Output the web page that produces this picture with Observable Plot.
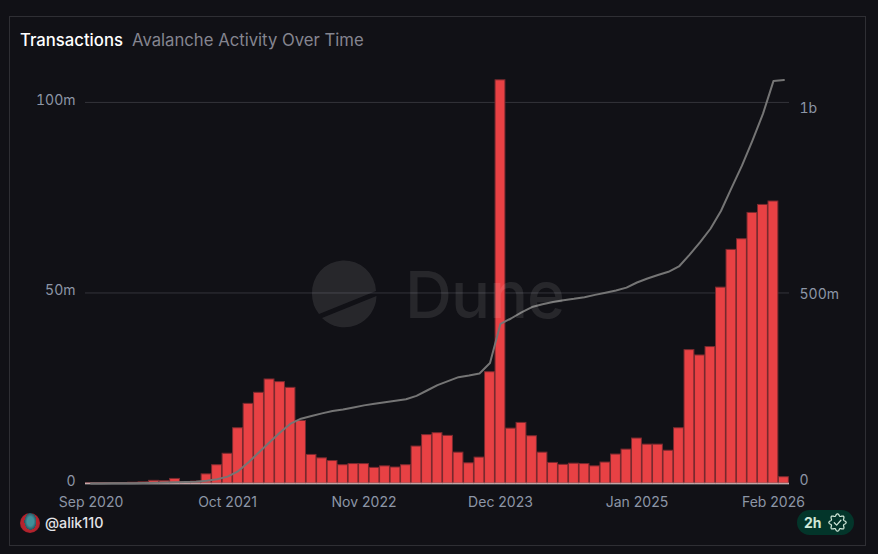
<!DOCTYPE html>
<html>
<head>
<meta charset="utf-8">
<script src="https://cdn.jsdelivr.net/npm/d3@7"></script>
<script src="https://cdn.jsdelivr.net/npm/@observablehq/plot@0.6"></script>
<style>
  html, body { margin: 0; padding: 0; background: #111116; width: 878px; height: 554px; overflow: hidden; font-family: Inter, sans-serif; }
  #card { position: absolute; left: 9px; top: 16px; width: 855px; height: 528px; border: 1px solid #2f2f34; box-sizing: content-box; }
  #chart { position: absolute; left: 0; top: 0; }
  #chart svg { display: block; }
  .t { position: absolute; white-space: nowrap; line-height: 20px; }
  #title { left: 20px; top: 30px; font-size: 16.7px; font-weight: 500; color: #ffffff; }
  #subtitle { left: 132px; top: 30px; font-size: 16.7px; color: #858590; }
  #handle { left: 45px; top: 513px; font-size: 14.3px; font-weight: 500; color: #e4e4e8; }
  #avatar { position: absolute; left: 20px; top: 513px; width: 20px; height: 20px; border-radius: 50%;
    background: radial-gradient(ellipse 30% 42% at 52% 42%, #3f8f9a 0 55%, #2b5560 100%, transparent 100%), radial-gradient(circle at 50% 50%, #b3242e 0 60%, #7d1620 100%); }
  #badge { position: absolute; left: 797px; top: 510px; width: 57px; height: 25px; border-radius: 13px; background: #03352a; }
  #badge span { position: absolute; left: 7px; top: 3px; font-size: 14px; line-height: 19px; font-weight: 700; color: #cfe7d8; }
  #badge svg { position: absolute; left: 31px; top: 3px; }
  #mark { position: absolute; left: 0; top: 0; pointer-events: none; }
</style>
</head>
<body>
<div id="card"></div>
<div id="chart"></div>
<svg id="mark" width="878" height="554">
  <g fill="#ffffff" fill-opacity="0.095">
    <path d="M312 294 a32 32 0 0 1 64 -3 L319 314 a32 32 0 0 1 -7 -20 Z"/>
    <path d="M322 318 L376.5 296 a32 32 0 0 1 -54.5 22 Z"/>
    <text x="405" y="318" font-family="Inter, sans-serif" font-size="65" font-weight="500" letter-spacing="-1">Dune</text>
  </g>
</svg>
<div class="t" id="title">Transactions</div>
<div class="t" id="subtitle">Avalanche Activity Over Time</div>
<div id="avatar"></div>
<div class="t" id="handle">@alik110</div>
<div id="badge"><span>2h</span><svg width="19" height="19" viewBox="-10 -10 20 20"><path id="seal" fill="none" stroke="#cfe7d8" stroke-width="1.3" stroke-linejoin="round"/><path d="M-3.4 0.2 L-0.9 2.7 L3.6 -2.4" fill="none" stroke="#cfe7d8" stroke-width="1.3" stroke-linecap="round" stroke-linejoin="round"/></svg></div>
<script>
const months = [
  "Sep 2020","Oct 2020","Nov 2020","Dec 2020",
  "Jan 2021","Feb 2021","Mar 2021","Apr 2021","May 2021","Jun 2021","Jul 2021","Aug 2021","Sep 2021","Oct 2021","Nov 2021","Dec 2021",
  "Jan 2022","Feb 2022","Mar 2022","Apr 2022","May 2022","Jun 2022","Jul 2022","Aug 2022","Sep 2022","Oct 2022","Nov 2022","Dec 2022",
  "Jan 2023","Feb 2023","Mar 2023","Apr 2023","May 2023","Jun 2023","Jul 2023","Aug 2023","Sep 2023","Oct 2023","Nov 2023","Dec 2023",
  "Jan 2024","Feb 2024","Mar 2024","Apr 2024","May 2024","Jun 2024","Jul 2024","Aug 2024","Sep 2024","Oct 2024","Nov 2024","Dec 2024",
  "Jan 2025","Feb 2025","Mar 2025","Apr 2025","May 2025","Jun 2025","Jul 2025","Aug 2025","Sep 2025","Oct 2025","Nov 2025","Dec 2025",
  "Jan 2026","Feb 2026","Mar 2026"
];
// Monthly transactions, millions
const monthlyTx = [
  0.02,0.03,0.03,0.05,0.2,0.3,0.7,0.6,1.2,0.3,0.5,2.4,4.8,7.8,14.5,20.9,
  23.8,27.3,26.6,25.1,16.4,7.5,6.6,5.9,4.8,5.1,5.1,4.1,4.5,4.2,4.8,9.7,
  12.7,13.2,12.5,8.1,5.3,6.8,29.2,105.8,14.4,15.9,12.4,8.1,5.4,4.9,5.2,5.1,
  4.5,5.5,7.6,8.9,11.8,10.2,10.2,8.6,14.5,35.0,33.6,35.8,51.4,61.3,64.1,71.0,
  73.1,74.0,1.65
];
// Cumulative transactions, millions
const cumulativeTx = [
  0.2,0.3,0.4,0.5,0.7,1,1.7,2.3,3.5,3.8,4.3,7,11,18,32,56,
  82,108,134,157,170,177,184,190,194,199.5,205,209,213.5,217,221,230,
  244,258,268.6,279,283.5,288.7,316,419,433,449,463,470.6,476,481,484.6,489,
  495,500.5,506.5,514,527.5,538,547,555.6,569.5,600,633,668.5,715,775,834,900,
  970,1056,1059
];
const xTickLabels = ["Sep 2020","Oct 2021","Nov 2022","Dec 2023","Jan 2025","Feb 2026"];
const leftTicks = [0, 50, 100];
const leftTickLabels = ["0", "50m", "100m"];
const rightTicks = [0, 500, 1000];
const rightTickLabels = ["0", "500m", "1b"];

const table = months.map((month, i) => ({month, tx: monthlyTx[i], cum: cumulativeTx[i]}));
const tickColor = "#8d96a6";

const rightAxis = (i, dy) => Plot.axisY([rightTicks[i] / 10], {
  anchor: "right", tickSize: 0, tickPadding: 10, dy, fontSize: 14, fill: tickColor, label: null,
  tickFormat: () => rightTickLabels[i]
});

const chart = Plot.plot({
  width: 878,
  height: 554,
  marginLeft: 85,
  marginRight: 89,
  marginTop: 60,
  marginBottom: 71,
  style: {background: "transparent", fontFamily: "Inter, sans-serif", fontSize: "14px", overflow: "visible"},
  x: {type: "band", domain: months, padding: 0.06, axis: null},
  y: {domain: [0, 111], axis: null},
  marks: [
    Plot.gridY([50, 100], {stroke: "#34343a", strokeOpacity: 1, strokeWidth: 1}),
    Plot.ruleY([0], {stroke: "#ffffff", strokeWidth: 1.6}),
    Plot.barY(table, {x: "month", y: "tx", fill: "#e84144", stroke: "#7a2a2f", strokeWidth: 1}),
    Plot.ruleY([0], {stroke: "#ffffff", strokeOpacity: 0.3, strokeWidth: 1, dy: -0.5}),
    Plot.line(table, {x: "month", y: d => d.cum / 10, stroke: "#757575", strokeWidth: 2}),
    Plot.axisY(leftTicks, {
      anchor: "left", tickSize: 0, tickPadding: 10, dy: -2, fontSize: 14, fill: tickColor, label: null,
      tickFormat: d => leftTickLabels[leftTicks.indexOf(d)]
    }),
    rightAxis(0, -3),
    rightAxis(1, 1.5),
    rightAxis(2, 6),
    Plot.axisX(xTickLabels, {
      anchor: "bottom", tickSize: 0, tickPadding: 14, fontSize: 14, fill: tickColor, label: null
    })
  ]
});
document.getElementById("chart").appendChild(chart);

// Badge seal outline
const lobes = 8, pts = [];
for (let a = 0; a < 360; a += 3) {
  const r = 8 + 1.1 * Math.cos(lobes * a * Math.PI / 180);
  pts.push([r * Math.cos(a * Math.PI / 180), r * Math.sin(a * Math.PI / 180)]);
}
document.getElementById("seal").setAttribute("d", d3.line().curve(d3.curveLinearClosed)(pts));
</script>
</body>
</html>
